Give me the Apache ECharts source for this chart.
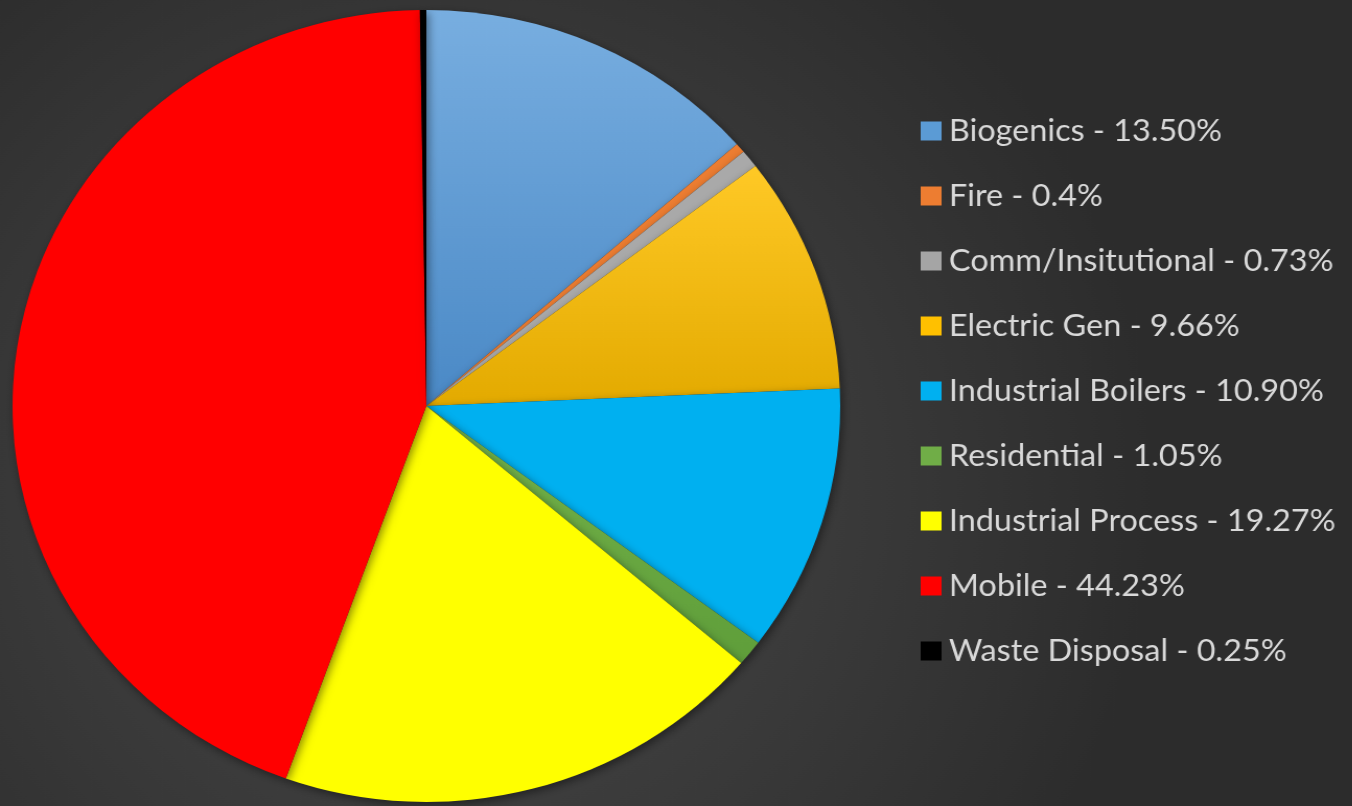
<!DOCTYPE html>
<html>
<head>
<meta charset="utf-8">
<script src="https://cdn.jsdelivr.net/npm/echarts@6/dist/echarts.min.js"></script>
<style>
  html, body { margin: 0; padding: 0; background: #333; overflow: hidden; }
  #wrap { width: 1352px; height: 806px; overflow: hidden; position: relative; }
  /* the chart is laid out slightly narrower and widened horizontally */
  #chart { width: 1294px; height: 806px; transform: scaleX(1.045); transform-origin: 0 0; }
</style>
</head>
<body>
<div id="wrap"><div id="chart"></div></div>
<script>
// Emission source categories, clockwise from 12 o'clock
const categories = [
  'Biogenics', 'Fire', 'Comm/Insitutional', 'Electric Gen', 'Industrial Boilers',
  'Residential', 'Industrial Process', 'Mobile', 'Waste Disposal'
];
// Share of total (%)
const shares = [13.50, 0.4, 0.73, 9.66, 10.90, 1.05, 19.27, 44.23, 0.25];
// Percentage text shown in the legend
const shareLabels = ['13.50%', '0.4%', '0.73%', '9.66%', '10.90%', '1.05%', '19.27%', '44.23%', '0.25%'];

const grad = (top, bottom) => new echarts.graphic.LinearGradient(0, 0, 0, 1, [
  { offset: 0, color: top }, { offset: 1, color: bottom }
]);
const sliceColors = [
  grad('#78aee0', '#4a89c6'),
  '#ed7d31',
  '#a9a9a9',
  grad('#ffc926', '#e3aa00'),
  '#00b0f0',
  grad('#74b34a', '#5f9e3a'),
  '#ffff00',
  '#ff0000',
  '#000000'
];
const legendColors = ['#5b9bd5', '#ed7d31', '#a5a5a5', '#ffc000', '#00b0f0', '#70ad47', '#ffff00', '#ff0000', '#000000'];

const chart = echarts.init(document.getElementById('chart'), null, { renderer: 'canvas' });
chart.setOption({
  backgroundColor: new echarts.graphic.RadialGradient(0.33, 0.6, 0.85, [
    { offset: 0, color: '#4b4b4b' },
    { offset: 1, color: '#2c2c2c' }
  ]),
  animation: false,
  legend: {
    orient: 'vertical',
    left: 881,
    top: 115,
    padding: 0,
    icon: 'rect',
    itemWidth: 20,
    itemHeight: 19,
    itemGap: 33,
    selectedMode: false,
    data: categories.map((c, i) => ({ name: c, itemStyle: { color: legendColors[i] } })),
    formatter: name => name + ' - ' + shareLabels[categories.indexOf(name)],
    textStyle: {
      color: '#d9d9d9',
      fontFamily: 'Lato',
      fontSize: 31,
      lineHeight: 32,
      padding: [0, 0, 0, 2]
    }
  },
  series: [{
    type: 'pie',
    center: [408, 406],
    radius: 396,
    startAngle: 90,
    clockwise: true,
    label: { show: false },
    labelLine: { show: false },
    emphasis: { disabled: true },
    itemStyle: {
      borderWidth: 0,
      shadowBlur: 8,
      shadowOffsetX: 2,
      shadowOffsetY: 3,
      shadowColor: 'rgba(0,0,0,0.45)'
    },
    data: categories.map((c, i) => ({
      name: c,
      value: shares[i],
      itemStyle: { color: sliceColors[i] }
    }))
  }]
});
</script>
</body>
</html>
